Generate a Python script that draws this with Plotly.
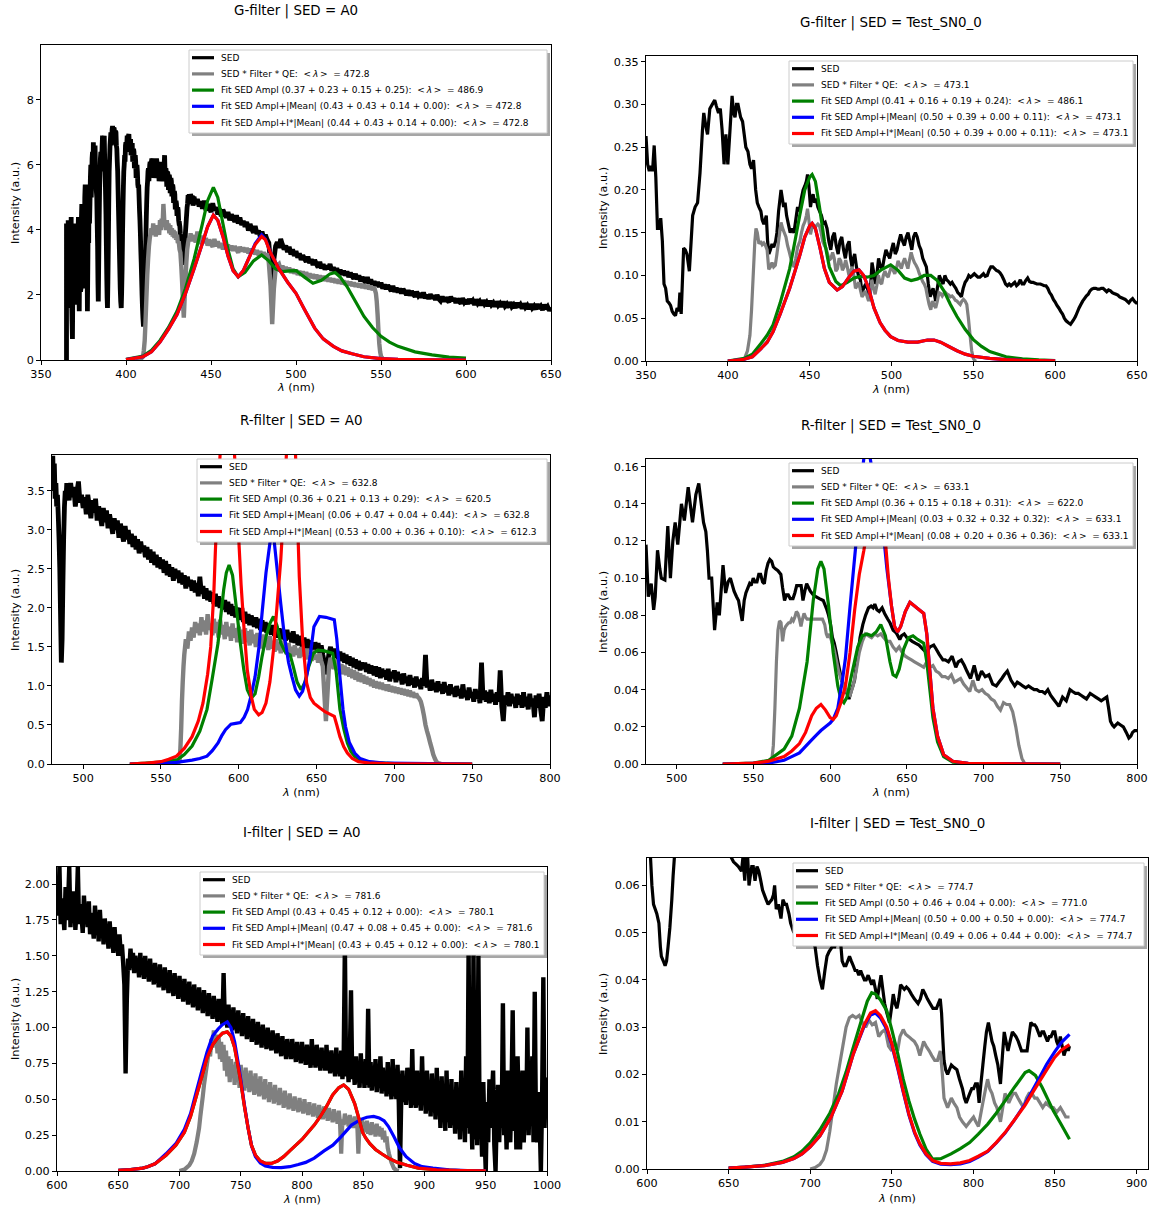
import plotly.graph_objects as go

W, H = 1158, 1209
FONT = "DejaVu Sans"


def grid(start, vals):
    """pair up values read at 1-nm spacing starting at `start`"""
    return [(start + i, v) for i, v in enumerate(vals)]


# ======================= DATA =======================
# ---------- G-filter | SED = A0 ----------
g_a0_sed_head = [(365,0),(365,4.2),(365.25,2.8),(365.5,4.0),(365.75,1.9),(366,4.3),(366.25,2.5),(366.5,1.6),(366.75,3.6),
 (367,2.2),(367.25,3.8),(367.5,2.5),(367.75,4.4),(368,2.0),(368.25,1.2),(368.5,0.65),(368.75,2.4),(369,3.6),(369.25,1.9),
 (369.5,3.2),(369.75,2.0),(370,4.2),(370.25,2.6),(370.5,1.8),(370.75,3.4),(371,3.9),(371.25,1.7),(371.5,2.6),(371.75,3.8),
 (372,4.4),(372.25,2.3),(372.5,1.5),(372.75,3.3),(373,4.0),(373.25,2.1),(373.5,2.2),(373.75,4.3),(374,4.8),(374.25,2.6),
 (374.5,2.4),(374.75,4.1),(375,4.5),(375.25,2.2),(375.5,3.0),(375.75,5.0),(376,5.4),(376.25,3.2),(376.5,2.8),(376.75,4.4),
 (377,4.0),(377.3,1.5),(377.6,3.2),(377.8,4.6),(378.05,3.6),(378.3,5.4),(378.55,4.2),(378.8,4.8),(379.05,5.6),(379.3,6.0),
 (379.55,5.0),(379.8,5.5),(380.05,6.2),(380.3,6.4),(380.55,5.6),(380.8,6.7),(381.05,6.0),(381.3,5.8),(381.55,6.5),(381.8,6.6),
 (382.05,5.8),(382.3,5.6),(382.55,5.2),(382.8,5.0),(383.05,4.2),(383.3,3.5),(383.5,2.4),(383.7,1.8),(383.95,3.0),(384.2,4.2),
 (384.45,5.2),(384.7,5.8),(384.95,6.2),(385.2,6.4),(385.45,5.8),(385.7,6.0),(385.95,6.6),(386.2,6.9),(386.45,6.3),(386.7,6.6),
 (386.95,6.8),(387.2,6.9),(387.45,6.2),(387.7,5.8),(387.95,5.2),(388.2,4.5),(388.45,3.5),(388.7,2.5),(388.9,1.9),(389.1,1.6),
 (389.35,2.4),(389.6,3.5),(389.85,4.8),(390.1,5.8),(390.35,6.2),(390.6,6.6),(390.85,6.8),(391.1,7.0),(391.35,6.6),(391.6,6.8),
 (391.85,7.1),(392.1,7.2),(392.35,6.8),(392.6,6.9),(392.85,7.15),(393.1,7.1),(393.35,6.7),(393.6,6.7),(393.85,7.05),(394.1,7.0),
 (394.35,6.6),(394.6,6.5),(394.85,6.1),(395.1,5.8),(395.35,5.2),(395.6,4.6),(395.85,4.0),(396.1,3.4),(396.35,2.8),(396.6,2.2),
 (396.9,1.8),(397.2,1.6),(397.45,2.1),(397.7,2.8),(397.95,3.8),(398.2,4.6),(398.45,5.3),(398.7,5.8),(398.95,6.0),(399.2,6.3),
 (399.45,6.1),(399.7,6.6),(399.95,6.7),(400.2,6.4),(400.45,6.6),(400.7,6.9),(400.95,6.5),(401.2,6.7),(401.45,6.9),(401.7,6.95),
 (401.95,6.6),(402.2,6.5),(402.45,6.7),(402.7,6.8),(402.95,6.3),(403.2,6.4),(403.45,6.6),(403.7,6.6),(403.95,6.1),(404.2,6.2),
 (404.45,6.5),(404.7,6.4),(404.95,5.9),(405.2,6.0),(405.45,6.3),(405.7,6.1),(405.95,5.6),(406.2,5.7),(406.45,6.0),(406.7,5.8),
 (406.95,5.4),(407.2,5.3),(407.45,5.4),(407.7,5.0),(407.95,4.6),(408.2,4.3),(408.45,3.9),(408.7,3.4),(408.95,3.0),(409.2,2.5),
 (409.45,2.0),(409.7,1.6),(409.95,1.3),(410.2,1.1),(410.45,1.1),(410.7,1.3),(410.95,1.8),(411.2,2.4),(411.45,3.1),(411.7,3.8),
 (411.95,4.4),(412.2,4.9),(412.45,5.3),(412.7,5.5),(412.95,5.8),(413.2,5.9),(413.45,5.5),(413.7,5.7),(413.95,6.0),(414.2,6.1),
 (414.45,5.7),(414.7,5.8),(414.95,6.1),(415.2,6.2),(415.45,5.7),(415.7,5.9),(415.95,6.2),(416.2,6.1),(416.45,5.6),(416.7,5.7),
 (416.95,6.1),(417.2,6.0),(417.45,5.6),(417.7,5.8),(417.95,6.2),(418.2,6.1),(418.45,5.6),(418.7,5.7),(418.95,6.0),(419.2,5.9),
 (419.45,5.5),(419.7,5.6),(419.95,6.1),(420.2,6.0),(420.45,5.6),(420.7,5.7),(420.95,6.0),(421.2,5.9),(421.45,5.5),(421.7,5.6),
 (421.95,5.9),(422.2,5.8),(422.45,6.0),(422.7,6.3),(422.95,5.8),(423.2,5.6),(423.45,5.9),(423.7,5.8),(423.95,5.4),(424.2,5.4),
 (424.45,5.8),(424.7,5.7),(424.95,5.3),(425.2,5.3),(425.45,5.7),(425.7,5.6),(425.95,5.2),(426.2,5.2),(426.45,5.6),(426.7,5.5),
 (426.95,5.1),(427.2,5.1),(427.45,5.4),(427.7,5.3),(427.95,4.9),(428.2,4.9),(428.45,5.2),(428.7,5.1),(428.95,4.7),(429.2,4.7),
 (429.45,4.9),(429.7,4.8),(429.95,4.5),(430.2,4.5),(430.45,4.7),(430.7,4.6),(430.95,4.3),(431.2,4.2),(431.45,4.2),(431.7,4.1),
 (431.95,3.9),(432.2,3.8),(432.45,3.7),(432.7,3.5),(432.95,3.3),(433.2,3.2),(433.45,3.1),(433.7,3.0),(433.95,3.0),(434.2,3.1),
 (434.45,3.4),(434.7,3.6),(434.95,3.9),(435.2,4.1),(435.45,4.3),(435.7,4.5),(435.95,4.7),(436.2,4.8),(436.45,5.0),(436.7,5.0),
 (436.95,4.8),(437.2,5.1),(437.45,4.9),(437.7,4.9),(437.95,5.1),(438.2,5.05),(438.45,4.8),(438.7,4.85),(438.95,5.05),(439.2,5.0),
 (439.45,4.75),(439.7,4.85)]
g_a0_sed_tail = [
 5.02,4.80,4.95,4.72,4.88,4.65,4.90,4.60,4.78,4.70, 4.55,4.82,4.60,4.70,4.48,4.65,4.42,4.62,4.50,4.38,
 4.55,4.30,4.48,4.36,4.25,4.45,4.20,4.38,4.15,4.28, 4.10,4.25,3.98,4.18,4.02,3.92,4.12,3.88,3.98,3.80,
 3.95,3.75,3.85,3.70,3.60,3.00,2.30,3.10,3.50,3.62, 3.45,3.72,3.55,3.40,3.52,3.32,3.48,3.25,3.40,3.20,
 3.35,3.15,3.28,3.08,3.22,3.12,3.02,3.18,2.98,3.10, 2.92,3.08,2.95,2.85,3.02,2.82,2.95,2.78,2.90,2.80,
 2.95,2.75,2.85,2.70,2.82,2.65,2.78,2.62,2.74,2.60, 2.72,2.55,2.68,2.58,2.50,2.65,2.48,2.60,2.42,2.55,
 2.45,2.38,2.55,2.35,2.48,2.30,2.42,2.28,2.40,2.25, 2.38,2.20,2.32,2.18,2.30,2.22,2.12,2.28,2.10,2.22,
 2.08,2.20,2.05,2.18,2.10,2.00,2.15,1.98,2.12,2.02, 1.95,2.10,1.98,2.05,1.92,2.08,1.90,2.00,1.88,2.02,
 1.90,1.98,1.85,2.00,1.88,1.82,1.95,1.80,1.92,1.84, 1.78,1.95,1.82,1.90,1.76,1.88,1.80,1.74,1.90,1.78,
 1.85,1.72,1.88,1.75,1.82,1.70,1.86,1.74,1.80,1.68, 1.84,1.72,1.78,1.66,1.82,1.70,1.76,1.65,1.80,1.68,
 1.74,1.64,1.80,1.66,1.72,1.62,1.78,1.64,1.70,1.60, 1.76,1.63,1.70,1.58,1.74,1.62,1.68,1.57,1.72,1.60,
 1.66,1.56,1.72,1.58,1.65,1.54,1.70,1.57,1.64,1.52, 1.62]
g_a0_sed = g_a0_sed_head + grid(440, g_a0_sed_tail)
g_a0_sfq_head = [(406,0),(408,0.02),(409,0.05),(410,0.1),(410.5,0.3),(411,0.6),(411.5,1.2),(412,1.9),(412.5,2.6),(413,3.1),
 (413.5,3.5),(414,3.75),(414.5,3.9),(415,4.05),(415.5,3.85),(416,4.2),(416.5,3.95),(417,4.1),(417.5,3.8),(418,4.15),(418.5,3.9),
 (419,4.05),(419.5,3.85),(420,4.3),(420.5,4.0),(421,4.35),(421.5,4.1),(422,4.8),(422.5,4.3),(423,4.25),(423.5,4.0),(424,4.3),
 (424.5,4.05),(425,4.2),(425.5,3.9),(426,4.15),(426.5,3.85),(427,4.05),(427.5,3.8),(428,4.0),(428.5,3.75),(429,3.95),(429.5,3.7),
 (430,3.85),(430.5,3.6),(431,3.65),(431.5,3.4),(432,3.3),(432.5,2.9),(433,2.4),(433.5,1.8),(434,1.3),(434.5,1.9),(435,2.5),
 (435.5,3.0),(436,3.4),(436.5,3.6),(437,3.75),(437.5,3.65),(438,3.9),(438.5,3.7),(439,3.85),(439.5,3.65)]
g_a0_sfq_mid = [
 3.80,3.62,3.95,3.70,3.58,3.82,3.60,3.75,3.52,3.70, 3.58,3.48,3.72,3.50,3.65,3.45,3.60,3.40,3.58,3.44,
 3.55,3.38,3.52,3.36,3.50,3.40,3.30,3.48,3.34,3.46, 3.32,3.45,3.28,3.42,3.30,3.40,3.25,3.38,3.22,3.35,
 3.20,3.32,3.15,3.28,3.00,2.30,1.10,2.20,2.80,2.90, 2.95,2.78,2.90,2.75,2.86,2.72,2.84,2.68,2.80,2.66,
 2.78,2.62,2.74,2.60,2.72,2.58,2.70,2.55,2.66,2.52, 2.64,2.50,2.62,2.48,2.60,2.46,2.58,2.44,2.55,2.42,
 2.52,2.40,2.50,2.38,2.48,2.36,2.46,2.34,2.44,2.32, 2.42,2.30,2.40,2.28,2.38,2.26,2.36,2.24,2.34,2.22,
 2.32,2.20,2.30,2.18,2.28,2.16,2.24]
g_a0_sfq_tailpts = [(547,2.05),(547.5,1.8),(548,1.4),(548.5,0.9),(549,0.5),(549.5,0.25),(550,0.12),(551,0.04),(553,0)]
g_a0_sfq = g_a0_sfq_head + grid(440, g_a0_sfq_mid) + g_a0_sfq_tailpts
g_a0_ampl = [(400,0.02),(410,0.12),(415,0.3),(420,0.6),(425,1.0),(430,1.5),(435,2.2),(440,3.1),(445,4.2),(448,4.9),(451.4,5.31),
 (454,5.0),(457,4.2),(460,3.4),(463,2.8),(466,2.56),(470,2.7),(475,3.05),(479.8,3.23),(484,3.05),(488,2.8),(492,2.72),(496,2.74),
 (500,2.75),(505,2.55),(510,2.36),(515,2.45),(520,2.65),(523,2.69),(526,2.55),(530,2.26),(535,1.8),(540,1.34),(545,1.0),(550,0.73),
 (555,0.55),(560,0.42),(570,0.25),(580,0.16),(590,0.09),(600,0.06)]
g_a0_mean = [(400,0.01),(410,0.1),(415,0.25),(420,0.55),(425,0.95),(430,1.4),(435,2.05),(440,2.8),(445,3.6),(448,4.1),(451.4,4.46),
 (454,4.3),(457,3.8),(460,3.2),(463,2.75),(466,2.56),(469,2.75),(472,3.1),(476,3.58),(479.8,3.85),(482,3.72),(485,3.3),(490,2.8),
 (495,2.4),(500,2.05),(505,1.55),(511,0.98),(516,0.65),(522,0.42),(527,0.28),(533,0.19),(540,0.1),(550,0.04),(560,0.02),
 (580,0.005),(600,0.0)]
g_a0_imean = [(400,0.01),(410,0.1),(415,0.25),(420,0.55),(425,0.95),(430,1.4),(435,2.05),(440,2.8),(445,3.6),(448,4.1),(451.4,4.46),
 (454,4.3),(457,3.8),(460,3.2),(463,2.75),(466,2.56),(469,2.75),(472,3.1),(476,3.55),(479.8,3.8),(482,3.7),(485,3.3),(490,2.8),
 (495,2.4),(500,2.05),(505,1.55),(511,0.98),(516,0.65),(522,0.42),(527,0.28),(533,0.19),(540,0.1),(550,0.04),(560,0.02),
 (580,0.005),(600,0.0)]
g_a0_lam = [472.8, 486.9, 472.8, 472.8]
g_a0_coef = [[0.37, 0.23, 0.15, 0.25], [0.43, 0.43, 0.14, 0.00], [0.44, 0.43, 0.14, 0.00]]

# ---------- G-filter | SED = Test_SN0_0 ----------
g_t_sed = [(350,0.263),(351,0.23),(352,0.222),(353,0.228),(354,0.222),(355,0.252),(356,0.215),(357,0.155),(358,0.155),(359,0.167),
 (360,0.14),(361,0.09),(362,0.085),(363,0.07),(364,0.068),(365,0.065),(366,0.058),(367,0.055),(368,0.053),(369,0.062),(370,0.058),
 (370.7,0.08),(371.5,0.055),(373,0.132),(374,0.13),(375,0.125),(376.5,0.105),(378.5,0.17),(380,0.18),(381.5,0.185),(383,0.22),
 (384.5,0.27),(385.3,0.29),(386.5,0.275),(387.6,0.265),(389,0.295),(390.5,0.3),(392,0.305),(393,0.298),(394.3,0.29),(395.4,0.295),
 (396.5,0.27),(397.7,0.23),(398.8,0.265),(400,0.23),(401,0.26),(402.6,0.31),(403.5,0.29),(404.4,0.285),(405.3,0.3),(406.2,0.3),
 (407.8,0.285),(409,0.28),(410,0.265),(411,0.25),(412.3,0.245),(413.5,0.23),(414.5,0.225),(415.7,0.235),(417,0.2),(418,0.185),
 (419,0.18),(420.2,0.175),(421,0.165),(422,0.16),(423.5,0.17),(424.3,0.14),(425.1,0.125),(426,0.13),(427,0.137),(428,0.133),
 (429.2,0.14),(430,0.15),(431,0.175),(432.5,0.2),(433.3,0.19),(434.1,0.18),(435,0.185),(435.9,0.17),(437,0.16),(438.1,0.15),
 (439,0.155),(440.4,0.15),(441.5,0.165),(442.6,0.18),(443.7,0.175),(444.9,0.19),(446,0.2),(447.1,0.205),(448,0.21),(448.7,0.218),
 (449.5,0.205),(450.5,0.18),(451.3,0.19),(452.1,0.195),(453,0.185),(453.9,0.19),(455,0.18),(456.1,0.175),(457.2,0.17),(458.4,0.16),
 (459.5,0.162),(460.6,0.155),(461.7,0.14),(462.9,0.13),(464,0.145),(465.1,0.15),(466.2,0.135),(467.4,0.125),(468.5,0.14),
 (469.6,0.145),(470.7,0.13),(471.8,0.12),(473,0.135),(474.1,0.14),(475,0.12),(475.9,0.11),(476.7,0.12),(477.5,0.125),(478.6,0.11),
 (479.8,0.1),(481,0.095),(482,0.08),(483,0.085),(484.2,0.09),(485.3,0.085),(486.5,0.075),(487.3,0.09),(488.1,0.115),(489,0.105),
 (489.9,0.09),(491,0.1),(492.1,0.12),(493.2,0.11),(494.4,0.108),(495.5,0.12),(496.6,0.13),(497.7,0.125),(498.9,0.12),(500,0.13),
 (501.1,0.138),(502.3,0.125),(503.4,0.13),(504.5,0.14),(505.6,0.148),(506.8,0.14),(507.9,0.135),(509,0.145),(510.1,0.15),
 (511.2,0.14),(512.4,0.13),(513.5,0.145),(514.6,0.15),(515.7,0.145),(516.9,0.135),(518,0.13),(519.1,0.12),(520.2,0.115),
 (521.3,0.11),(522.5,0.09),(523.6,0.075),(524.5,0.08),(525.4,0.085),(526.2,0.078),(527,0.07),(528,0.085),(529.2,0.1),(530.3,0.095),
 (531.5,0.09),(532.6,0.1),(533.7,0.095),(534.8,0.093),(536,0.09),(537,0.092),(538.2,0.088),(539.3,0.085),(540.5,0.08),
 (541.6,0.078),(542.7,0.075),(543.8,0.085),(545,0.092),(546.1,0.095),(547.2,0.1),(548.3,0.098),(549.5,0.1),(550.6,0.102),
 (551.7,0.1),(552.8,0.098),(554,0.098),(555.1,0.1),(556.2,0.102),(557.3,0.099),(558.5,0.1),(559.6,0.106),(560.7,0.11),
 (561.9,0.11),(563,0.108),(564.1,0.106),(565.2,0.105),(566.3,0.103),(567.4,0.1),(568.6,0.095),(569.7,0.09),(570.8,0.088),
 (571.9,0.09),(573,0.088),(574.2,0.09),(575.3,0.092),(576.4,0.088),(577.5,0.09),(578.7,0.095),(579.8,0.09),(580.9,0.09),
 (582,0.094),(583.2,0.097),(584.3,0.093),(585.4,0.092),(586.5,0.092),(587.7,0.091),(588.8,0.09),(590,0.09),(591,0.09),
 (592.2,0.089),(593.3,0.088),(594.4,0.088),(595.5,0.085),(596.6,0.08),(597.7,0.077),(598.9,0.072),(600,0.069),(601.1,0.065),
 (602.2,0.062),(603.4,0.058),(604.5,0.055),(605.6,0.05),(606.7,0.047),(607.9,0.045),(609.4,0.043),(611.2,0.048),(612.4,0.052),
 (613.5,0.057),(614.6,0.062),(615.7,0.066),(616.8,0.07),(617.9,0.073),(619,0.076),(620.2,0.078),(621.3,0.082),(622.4,0.084),
 (623.6,0.085),(624.8,0.085),(626,0.084),(627,0.084),(628.2,0.085),(629.3,0.085),(630.4,0.083),(631.5,0.081),(632.6,0.083),
 (633.8,0.082),(634.9,0.08),(636,0.079),(637.2,0.078),(638.3,0.077),(639.4,0.075),(640.5,0.074),(641.6,0.073),(642.8,0.072),
 (643.9,0.07),(645,0.068),(646.1,0.071),(647.3,0.073),(648.4,0.07),(649.5,0.068),(650,0.068)]
g_t_sfq = [(405,0),(410,0.002),(412,0.012),(413.5,0.03),(414.5,0.06),(415.5,0.1),(416.5,0.14),(417.2,0.155),(418,0.15),(419,0.137),
 (420,0.14),(421,0.136),(422,0.138),(423,0.135),(424,0.13),(425,0.107),(426,0.11),(427,0.115),(428,0.11),(429,0.112),(430,0.125),
 (431,0.14),(432.5,0.162),(433.5,0.155),(434.5,0.15),(435.5,0.145),(436.5,0.135),(437.5,0.128),(438.5,0.12),(439.5,0.113),
 (440.5,0.11),(441.5,0.12),(442.6,0.133),(444,0.14),(445,0.15),(446,0.158),(447.1,0.163),(448,0.17),(448.7,0.178),(449.5,0.165),
 (450.5,0.148),(451.3,0.155),(452.1,0.16),(453,0.155),(454,0.158),(455,0.16),(456,0.158),(457,0.15),(458,0.14),(459,0.135),
 (460,0.132),(461,0.125),(462,0.118),(463,0.12),(464,0.127),(465,0.12),(466,0.105),(467,0.108),(468,0.12),(469,0.117),(470,0.106),
 (471,0.11),(472,0.118),(473,0.11),(474,0.1),(475,0.105),(476,0.11),(477,0.1),(478,0.085),(479,0.088),(480,0.092),(481,0.083),
 (482,0.075),(483,0.078),(484,0.082),(485,0.076),(486,0.07),(487,0.08),(488,0.095),(489,0.085),(490,0.078),(491,0.088),(492,0.1),
 (493,0.092),(494,0.09),(495,0.1),(496,0.105),(497,0.1),(498,0.098),(499,0.105),(500,0.11),(501,0.106),(502,0.102),(503,0.108),
 (504,0.117),(505,0.113),(506,0.108),(507,0.115),(508,0.12),(509,0.114),(510,0.108),(511,0.118),(512,0.127),(513,0.12),(514,0.115),
 (515,0.112),(516,0.108),(517,0.102),(518,0.098),(519,0.093),(520,0.09),(521,0.085),(522,0.075),(523,0.066),(524,0.06),(525,0.07),
 (526,0.066),(527,0.062),(528,0.07),(529,0.08),(530,0.079),(531,0.076),(532,0.079),(533,0.08),(534,0.078),(535,0.077),(536,0.075),
 (537,0.076),(538,0.074),(539,0.071),(540,0.07),(541,0.068),(542,0.066),(543,0.07),(544,0.072),(545,0.07),(546,0.066),(547,0.05),
 (548,0.03),(549,0.012),(550,0.003),(551,0.0),(552,0)]
g_t_ampl = [(400,0),(410,0.003),(415,0.008),(420,0.02),(424,0.03),(427.6,0.042),(432,0.068),(437.8,0.108),(441,0.14),(444,0.171),
 (447,0.2),(450,0.215),(451.5,0.218),(453.5,0.21),(456,0.18),(459,0.14),(462,0.11),(466,0.093),(469,0.088),(473,0.092),(477,0.097),
 (481,0.099),(485,0.098),(489.3,0.1),(494,0.107),(499.5,0.1125),(504,0.106),(508,0.097),(512,0.094),(516,0.096),(520,0.1),
 (524,0.1),(528,0.094),(532,0.082),(536,0.066),(540,0.052),(545,0.037),(550,0.025),(555,0.017),(560,0.011),(570,0.005),
 (580,0.0025),(590,0.0012),(600,0.0006)]
g_t_imean = [(400,0),(410,0.002),(415,0.005),(420,0.014),(424,0.022),(427.6,0.034),(432,0.055),(437.8,0.085),(441,0.105),
 (444,0.124),(447,0.145),(450,0.158),(451.5,0.161),(453.5,0.155),(456,0.135),(459,0.108),(462,0.092),(466.8,0.083),(470,0.087),
 (474,0.098),(477,0.105),(480.1,0.1066),(483,0.1),(486,0.085),(489.3,0.062),(493,0.045),(496,0.036),(499.5,0.0285),(504,0.024),
 (510,0.022),(516,0.022),(522,0.0245),(526,0.0245),(530,0.022),(535,0.017),(540,0.012),(545,0.008),(550,0.0055),(560,0.003),
 (570,0.0015),(580,0.0008),(600,0.0003)]
g_t_mean = g_t_imean  # identical fit (same coefficients)
g_t_lam = [473.1, 486.1, 473.1, 473.1]
g_t_coef = [[0.41, 0.16, 0.19, 0.24], [0.50, 0.39, 0.00, 0.11], [0.50, 0.39, 0.00, 0.11]]

# ---------- R-filter | SED = A0 ----------
r_a0_sed_head = [(480,3.7),(480.5,3.95),(481,3.5),(481.5,3.85),(482,3.4),(482.5,3.6),(483,3.3),(483.5,3.45),(484,3.2),(484.5,2.9),
 (485,2.5),(485.5,1.9),(486,1.3),(486.5,1.6),(487,2.3),(487.5,2.9),(488,3.3),(488.5,3.5),(489,3.4),(489.5,3.6)]
r_a0_sed_tail = [
 3.50,3.38,3.60,3.42,3.55,3.30,3.48,3.62,3.35,3.45, 3.28,3.42,3.20,3.45,3.30,3.15,3.38,3.22,3.40,3.12,
 3.30,3.18,3.05,3.28,3.10,3.25,3.02,3.20,3.08,2.95, 3.15,3.00,3.12,2.90,3.08,2.95,2.85,3.05,2.88,3.00,
 2.82,2.95,2.78,2.92,2.75,2.88,2.70,2.85,2.72,2.80, 2.65,2.78,2.62,2.75,2.58,2.72,2.55,2.68,2.52,2.65,
 2.50,2.62,2.45,2.60,2.42,2.56,2.40,2.52,2.35,2.50, 2.38,2.48,2.32,2.45,2.30,2.42,2.25,2.40,2.28,2.36,
 2.22,2.35,2.20,2.32,2.15,2.40,2.18,2.28,2.12,2.25, 2.10,2.22,2.08,2.20,2.05,2.18,2.02,2.15,2.00,2.12,
 1.98,2.10,1.95,2.08,1.92,2.05,1.90,2.02,1.88,2.00, 1.92,1.85,2.00,1.82,1.95,1.80,1.92,1.78,1.90,1.84,
 1.76,1.88,1.74,1.86,1.72,1.84,1.70,1.82,1.68,1.80, 1.72,1.66,1.78,1.64,1.76,1.62,1.74,1.60,1.72,1.64,
 1.58,1.72,1.60,1.68,1.56,1.70,1.55,1.66,1.52,1.64, 1.56,1.50,1.62,1.48,1.60,1.46,1.58,1.52,1.44,1.56,
 1.48,1.55,1.42,1.52,1.40,1.30,1.15,1.28,1.42,1.50, 1.40,1.48,1.36,1.46,1.34,1.44,1.32,1.42,1.30,1.40,
 1.28,1.38,1.26,1.36,1.24,1.34,1.22,1.32,1.20,1.30, 1.22,1.30,1.18,1.28,1.16,1.26,1.20,1.14,1.25,1.12,
 1.24,1.10,1.22,1.12,1.20,1.08,1.22,1.06,1.18,1.10, 1.20,1.05,1.18,1.08,1.15,1.02,1.16,1.04,1.12,1.00,
 1.14,1.02,1.10,0.98,1.12,1.00,1.08,0.96,1.10,1.00, 1.40,0.98,1.06,0.94,1.08,0.95,1.04,0.92,1.06,0.94,
 1.02,0.90,1.05,0.92,1.00,0.88,1.02,0.90,0.98,0.86, 1.00,0.88,0.96,0.84,1.02,0.86,0.94,0.82,0.98,0.85,
 0.92,0.80,0.96,0.84,0.90,0.78,1.30,0.82,0.94,0.80, 0.92,0.78,0.95,0.80,0.90,0.76,0.92,0.80,1.20,0.74,
 0.55,0.88,0.76,0.92,0.74,0.90,0.78,0.86,0.72,0.90, 0.76,0.88,0.72,0.92,0.74,0.86,0.70,0.90,0.74,0.84,
 0.60,0.88,0.72,0.90,0.70,0.55,0.86,0.72,0.92,0.74, 0.88]
r_a0_sed = r_a0_sed_head + grid(490, r_a0_sed_tail)
r_a0_sfq_head = [(560,0),(561,0.01),(562,0.05),(562.5,0.2),(563,0.45),(563.5,0.8),(564,1.05),(564.5,1.25),(565,1.4),(565.5,1.5)]
r_a0_sfq_mid = [
 1.60,1.48,1.70,1.58,1.75,1.62,1.82,1.68,1.80,1.65, 1.88,1.70,1.84,1.66,1.92,1.72,1.80,1.65,1.86,1.68,
 1.82,1.62,1.85,1.66,1.78,1.60,1.82,1.64,1.76,1.58, 1.80,1.62,1.74,1.56,1.76,1.58,1.72,1.54,1.74,1.56,
 1.70,1.52,1.72,1.55,1.66,1.50,1.68,1.52,1.64,1.48, 1.66,1.50,1.62,1.46,1.64,1.48,1.58,1.44,1.60,1.46,
 1.56,1.42,1.58,1.44,1.54,1.40,1.55,1.42,1.50,1.38, 1.52,1.40,1.48,1.36,1.50,1.38,1.46,1.34,1.48,1.36,
 1.44,1.32,1.46,1.34,1.40,1.30,1.42,1.32,1.25,0.90, 0.55,0.90,1.25,1.36,1.28,1.22,1.34,1.20,1.30,1.18,
 1.28,1.15,1.26,1.14,1.24,1.12,1.22,1.10,1.20,1.08, 1.18,1.06,1.16,1.05,1.14,1.03,1.12,1.02,1.10,1.00,
 1.08,0.98,1.06,0.97,1.05,0.96,1.04,0.95,1.02,0.94, 1.02,0.93,1.00,0.92,0.99,0.91,0.98,0.90,0.97,0.89,
 0.96,0.88,0.95,0.87,0.94,0.86,0.92,0.85,0.90,0.86, 0.84]
r_a0_sfq_tailpts = [(717,0.8),(718,0.72),(719,0.62),(720,0.5),(721,0.42),(722,0.35),(723,0.27),(724,0.2),(725,0.12),(726,0.07),
 (727,0.03),(728,0.01),(730,0)]
r_a0_sfq = r_a0_sfq_head + grid(566, r_a0_sfq_mid) + r_a0_sfq_tailpts
r_a0_ampl = [(530,0),(540,0.01),(550,0.025),(555,0.04),(560.5,0.055),(565,0.12),(570,0.23),(575,0.42),(579.6,0.7),(583,1.1),
 (586.7,1.55),(588.5,1.9),(590.3,2.23),(592,2.45),(593.8,2.55),(596,2.42),(598.6,1.98),(601,1.55),(603.3,1.2),(605.5,0.95),
 (608,0.845),(610.5,0.9),(612.8,1.12),(615,1.38),(617.5,1.63),(620,1.8),(622.3,1.89),(624.5,1.78),(627,1.55),(630,1.43),(633,1.4),
 (635,1.25),(637.5,1.05),(640.1,0.95),(642.5,1.05),(645,1.25),(648,1.42),(650.8,1.46),(655,1.45),(660.3,1.42),(662.5,1.2),
 (665,0.7),(667.5,0.45),(669.8,0.27),(672,0.16),(674.5,0.1),(678,0.05),(685,0.02),(700,0.005),(750,0)]
r_a0_mean = [(530,0),(550,0.005),(560,0.02),(570,0.05),(575,0.07),(579.6,0.1),(583,0.17),(586.7,0.27),(589,0.36),(591.5,0.44),
 (595,0.51),(598,0.52),(601,0.53),(603.5,0.6),(605.7,0.7),(608,0.88),(610.5,1.12),(613,1.5),(615.2,1.98),(617.5,2.45),(620,2.83),
 (622,3.0),(624.7,2.49),(627,2.05),(629.4,1.63),(632,1.3),(634.2,1.12),(636.5,0.95),(638.9,0.87),(641,0.93),(643.6,1.12),(646,1.4),
 (648.3,1.76),(651.9,1.89),(656,1.88),(661.4,1.85),(663,1.6),(665,1.12),(667,0.7),(668.6,0.48),(671,0.28),(674.5,0.14),(678,0.07),
 (684,0.03),(695,0.01),(750,0)]
r_a0_imean = [(530,0),(540,0.01),(550,0.03),(555,0.06),(560,0.1),(565,0.2),(570,0.35),(574,0.55),(577,0.78),(580,1.15),(582,1.5),
 (584,2.2),(585,2.74),(586.5,3.4),(588,3.96),(590,4.5),(592.5,4.85),(595,4.5),(597.3,3.96),(599.7,3.0),(601.5,2.3),(603.3,1.76),
 (605.5,1.2),(608,0.87),(610,0.7),(612.8,0.63),(615,0.66),(617.5,0.78),(620,1.05),(622.3,1.46),(624.5,2.0),(627,2.62),(629,3.3),
 (630.6,3.96),(633.5,4.6),(636.5,3.96),(638.9,2.4),(641,1.6),(643.6,1.04),(646,0.85),(648.3,0.78),(652,0.72),(655.4,0.67),
 (658.5,0.64),(661.4,0.61),(663,0.5),(665,0.35),(667.5,0.22),(669.8,0.14),(673,0.07),(676.9,0.03),(685,0.01),(700,0.003),(750,0)]
r_a0_lam = [632.8, 620.5, 632.8, 612.3]
r_a0_coef = [[0.36, 0.21, 0.13, 0.29], [0.06, 0.47, 0.04, 0.44], [0.53, 0.00, 0.36, 0.10]]

# ---------- R-filter | SED = Test_SN0_0 ----------
r_t_sed = [(480,0.118),(481.5,0.09),(483.4,0.097),(485,0.083),(486,0.09),(487.5,0.115),(489,0.105),(490,0.1),(492.3,0.099),
 (494.2,0.128),(495.9,0.1),(497.5,0.12),(499,0.13),(500.7,0.118),(503.1,0.14),(505,0.131),(507.5,0.149),(508.8,0.14),(510.3,0.13),
 (512.5,0.145),(514.4,0.151),(516,0.14),(517.5,0.13),(519,0.125),(520,0.115),(521.1,0.1),(522.8,0.1),(524.7,0.072),(526.4,0.087),
 (527.8,0.08),(530.2,0.107),(531.9,0.092),(533.5,0.098),(535,0.1),(537.4,0.093),(539,0.09),(540.3,0.088),(542.7,0.077),(544,0.088),
 (545.1,0.092),(547.5,0.097),(548.5,0.096),(549.9,0.1),(551,0.098),(552.3,0.098),(553.5,0.102),(554.7,0.102),(556,0.098),
 (557.1,0.097),(558.3,0.104),(559.5,0.108),(560.7,0.11),(561.9,0.109),(563,0.106),(564.3,0.105),(566,0.104),(567.9,0.102),
 (569,0.095),(570.3,0.088),(571.5,0.091),(572.7,0.091),(574,0.089),(575.8,0.089),(577,0.092),(578.2,0.096),(579.5,0.096),
 (581.1,0.096),(582.3,0.088),(583.5,0.093),(584.7,0.097),(585.9,0.095),(587.1,0.093),(589,0.091),(590.7,0.09),(593,0.089),
 (595.5,0.088),(597.9,0.083),(599,0.08),(600.3,0.075),(601.5,0.068),(602.7,0.065),(604,0.06),(605.1,0.055),(606.3,0.05),
 (607.5,0.045),(608.7,0.043),(609.9,0.04),(611,0.038),(612.3,0.035),(614,0.04),(615.9,0.045),(617.5,0.055),(619.5,0.068),
 (621.3,0.075),(623.1,0.08),(625,0.084),(626.7,0.085),(628,0.084),(629.1,0.086),(630.5,0.083),(632,0.082),(633.9,0.084),
 (635.5,0.081),(637.5,0.078),(639,0.076),(641.1,0.072),(642.5,0.071),(643.5,0.07),(645.4,0.067),(646.5,0.069),(648.3,0.07),
 (650,0.068),(651.9,0.067),(653.5,0.066),(655.5,0.065),(657.9,0.064),(660.3,0.062),(662.7,0.06),(665.1,0.063),(667.5,0.064),
 (669,0.062),(671.1,0.059),(673.5,0.056),(675,0.056),(677.1,0.055),(679.5,0.058),(681.9,0.052),(683.5,0.055),(685.5,0.056),
 (687.5,0.053),(689.1,0.05),(691.5,0.046),(693.9,0.053),(696.3,0.045),(698.7,0.05),(701.1,0.047),(703.5,0.048),(705.9,0.043),
 (708.3,0.042),(710,0.044),(711.9,0.046),(713.5,0.048),(715.5,0.05),(717.9,0.045),(720.3,0.042),(722,0.044),(723.9,0.043),
 (725.5,0.042),(727.5,0.041),(729.3,0.042),(731.1,0.041),(733,0.04),(734.7,0.04),(736.5,0.039),(738.3,0.039),(740,0.038),
 (741.9,0.04),(743.7,0.037),(745.5,0.035),(747.3,0.033),(749.1,0.031),(751.5,0.036),(753.9,0.034),(756.3,0.04),(758,0.039),
 (759.9,0.038),(761.7,0.038),(763.5,0.037),(765.3,0.036),(767.1,0.035),(769.5,0.038),(771.3,0.037),(773.1,0.036),(774.9,0.035),
 (776.7,0.034),(778.5,0.035),(780.3,0.036),(781.5,0.03),(782.7,0.023),(784,0.021),(785.1,0.02),(786.3,0.021),(787.5,0.022),
 (789.3,0.021),(791.1,0.02),(793,0.017),(794.7,0.014),(796,0.015),(797.1,0.017),(798.5,0.018),(800,0.018)]
r_t_sfq = [(560,0),(562,0.002),(563,0.01),(564,0.03),(565,0.055),(566,0.072),(567,0.077),(568,0.076),(569,0.066),(570,0.072),
 (571,0.074),(572,0.075),(573,0.076),(574,0.076),(575,0.078),(576,0.077),(577,0.079),(578,0.082),(579,0.081),(580,0.078),
 (581,0.074),(582,0.078),(583,0.081),(584,0.079),(585,0.078),(587,0.078),(590,0.078),(593,0.078),(595,0.078),(596.5,0.075),
 (597.5,0.07),(598.5,0.068),(599.5,0.07),(601,0.066),(602.5,0.062),(604,0.056),(605.5,0.05),(607,0.046),(608.5,0.043),(610,0.04),
 (611.5,0.038),(613,0.037),(615,0.042),(617,0.05),(619,0.06),(621,0.066),(623,0.07),(625,0.069),(627,0.068),(629,0.07),
 (631,0.069),(633,0.07),(635,0.068),(637,0.066),(639,0.066),(641,0.063),(643,0.061),(645,0.063),(647,0.06),(649,0.058),
 (651,0.057),(653,0.056),(655,0.055),(657,0.054),(659,0.053),(661,0.052),(663,0.055),(665,0.052),(667,0.053),(669,0.05),
 (671,0.049),(673,0.047),(675,0.047),(677,0.046),(679,0.048),(681,0.044),(683,0.045),(685,0.046),(687,0.043),(689,0.041),
 (691,0.039),(693,0.045),(695,0.04),(697,0.039),(699,0.04),(701,0.038),(703,0.037),(705,0.035),(707,0.034),(709,0.031),
 (711,0.029),(713,0.033),(715,0.032),(717,0.032),(719,0.028),(721,0.02),(723,0.01),(725,0.003),(727,0)]
r_t_ampl = [(530,0),(550,0.0005),(560,0.002),(570,0.008),(575,0.015),(580,0.03),(585,0.055),(589,0.088),(592,0.105),(594,0.109),
 (596,0.105),(599,0.085),(602,0.06),(605,0.042),(607,0.035),(609,0.033),(611,0.036),(614,0.048),(618,0.063),(621,0.069),
 (624,0.07),(627,0.069),(630,0.071),(633,0.075),(636,0.069),(639,0.055),(641,0.048),(643,0.047),(645,0.051),(648,0.062),
 (651,0.068),(654,0.069),(657,0.067),(661,0.065),(663,0.055),(665,0.04),(667,0.025),(670,0.012),(674,0.004),(680,0.001),
 (690,0.0002),(750,0)]
r_t_mean = [(530,0),(560,0.0005),(570,0.002),(575,0.004),(580,0.006),(584,0.0095),(588,0.013),(591,0.0155),(594,0.018),
 (597,0.02),(600,0.022),(602,0.024),(605,0.03),(608,0.045),(610,0.057),(613,0.085),(617,0.12),(620,0.15),(623,0.172),(626,0.165),
 (629,0.15),(632,0.135),(635,0.122),(637,0.105),(640,0.085),(642,0.074),(644,0.071),(646,0.074),(649,0.082),(652,0.087),
 (655,0.085),(658,0.083),(661,0.081),(663,0.07),(665,0.05),(667,0.03),(670,0.015),(674,0.005),(680,0.0015),(690,0.0003),(750,0)]
r_t_imean = [(530,0),(550,0.0005),(560,0.0015),(570,0.004),(575,0.007),(580,0.011),(584,0.017),(588,0.026),(591,0.03),
 (594,0.032),(597,0.029),(600,0.025),(602,0.024),(604,0.026),(607,0.033),(610,0.042),(613,0.06),(616,0.083),(619,0.102),
 (622,0.115),(625,0.13),(629,0.14),(633,0.138),(636,0.12),(638,0.1),(640,0.085),(642,0.074),(644,0.071),(646,0.074),(649,0.082),
 (652,0.087),(655,0.085),(658,0.083),(661,0.081),(663,0.07),(665,0.05),(667,0.03),(670,0.015),(674,0.005),(680,0.0015),
 (690,0.0003),(750,0)]
r_t_lam = [633.1, 622.0, 633.1, 633.1]
r_t_coef = [[0.36, 0.15, 0.18, 0.31], [0.03, 0.32, 0.32, 0.32], [0.08, 0.20, 0.36, 0.36]]

# ---------- I-filter | SED = A0 ----------
i_a0_sed_vals = [
 1.95,1.78,2.12,1.72,1.90,1.80,1.68,1.98,1.75,1.85, 2.12,1.70,1.88,1.76,1.95,1.68,1.82,2.12,1.72,1.86,
 1.78,1.66,1.92,1.74,1.84,1.70,1.88,1.65,1.80,1.72, 1.62,1.85,1.70,1.78,1.60,1.82,1.66,1.74,1.58,1.76,
 1.62,1.70,1.55,1.74,1.60,1.66,1.52,1.70,1.56,1.62, 1.50,1.65,1.52,1.58,1.45,1.30,0.68,1.20,1.48,1.40,
 1.55,1.42,1.52,1.38,1.50,1.40,1.46,1.35,1.52,1.38, 1.46,1.34,1.50,1.36,1.44,1.32,1.48,1.34,1.42,1.30,
 1.45,1.32,1.40,1.28,1.44,1.30,1.38,1.26,1.42,1.28, 1.36,1.24,1.40,1.26,1.34,1.22,1.38,1.24,1.32,1.20,
 1.36,1.22,1.30,1.18,1.34,1.20,1.28,1.16,1.32,1.18, 1.26,1.14,1.30,1.16,1.24,1.12,1.28,1.14,1.22,1.10,
 1.26,1.12,1.20,1.08,1.24,1.10,1.18,1.06,1.22,1.08, 1.16,1.04,1.20,1.06,1.14,1.02,1.38,1.04,1.12,1.00,
 1.16,1.02,1.10,0.98,1.14,1.00,1.08,0.96,1.12,0.98, 1.06,0.94,1.10,0.96,1.04,0.92,1.08,0.94,1.02,0.90,
 1.06,0.92,1.00,0.88,1.04,0.90,0.98,0.86,1.02,0.88, 0.96,0.85,1.00,0.86,0.94,0.84,0.98,0.85,0.92,0.82,
 0.96,0.84,0.90,0.80,0.94,0.82,0.90,0.78,0.92,0.80, 0.88,0.78,0.92,0.80,0.86,0.76,0.90,0.78,0.85,0.75,
 0.90,0.77,0.84,0.74,0.88,0.76,0.82,0.72,0.92,0.74, 0.84,0.72,0.88,0.74,0.82,0.70,0.86,0.72,0.80,0.70,
 0.88,0.70,0.80,0.68,0.84,0.70,0.78,0.66,0.86,0.68, 0.78,0.66,0.84,0.64,0.76,1.57,0.66,0.80,0.62,0.78,
 1.26,0.64,0.76,0.60,0.80,0.62,0.74,0.58,0.82,0.62, 0.74,0.58,0.78,0.60,1.13,0.58,0.76,0.56,0.72,0.60,
 0.78,0.55,0.70,0.58,0.80,0.54,0.72,0.56,0.68,0.52, 0.76,0.54,0.66,0.50,0.78,0.52,0.68,0.50,0.74,0.48,
 0.02,0.50,0.70,0.48,0.64,0.46,0.72,0.50,0.66,0.44, 0.85,0.46,0.62,0.44,0.70,0.46,0.60,0.42,0.80,0.48,
 0.62,0.40,0.70,0.42,0.58,0.38,0.68,0.44,0.56,0.36, 0.72,0.40,0.58,0.30,0.66,0.36,0.52,0.28,0.70,0.34,
 0.56,0.30,0.64,0.32,0.50,0.26,0.62,0.34,0.48,0.22, 0.70,0.28,0.50,0.20,0.80,0.30,1.55,0.26,0.48,0.15,
 1.55,0.22,0.60,0.18,1.50,0.30,0.45,0.10,0.62,0.25, 0.00,0.48,0.20,0.64,0.30,0.52,0.70,0.18,0.00,0.40,
 0.60,0.20,0.55,0.30,1.17,0.25,0.50,0.15,0.70,0.30, 0.20,0.55,1.12,0.28,0.62,0.15,0.80,0.40,0.15,0.55,
 0.70,0.20,0.45,0.30,1.00,0.25,0.60,0.35,0.80,0.20, 1.25,0.30,0.20,0.55,0.35,0.00,0.50,1.35,0.30,0.65,
 0.60]
i_a0_sed = grid(600, i_a0_sed_vals)
i_a0_sfq_head = [(700,0),(704,0.01),(708,0.04),(710,0.07),(712,0.12),(714,0.2),(716,0.3),(717,0.38),(718,0.45),(719,0.52),
 (720,0.6),(721,0.66),(722,0.72),(723,0.78),(724,0.84)]
i_a0_sfq_mid = [
 0.80,0.92,0.86,0.98,0.88,0.95,0.82,0.93,0.78,0.90, 0.76,0.88,0.70,0.84,0.66,0.80,0.62,0.78,0.65,0.74,
 0.60,0.76,0.62,0.72,0.58,0.74,0.60,0.70,0.56,0.72, 0.58,0.68,0.55,0.70,0.56,0.66,0.53,0.68,0.54,0.64,
 0.52,0.66,0.53,0.62,0.50,0.64,0.51,0.60,0.48,0.62, 0.50,0.58,0.47,0.60,0.48,0.56,0.46,0.58,0.47,0.54,
 0.44,0.56,0.45,0.52,0.43,0.54,0.44,0.50,0.42,0.52, 0.43,0.49,0.41,0.51,0.42,0.48,0.40,0.50,0.41,0.46,
 0.39,0.48,0.40,0.45,0.38,0.47,0.39,0.44,0.37,0.46, 0.38,0.43,0.36,0.45,0.37,0.42,0.35,0.44,0.36,0.41,
 0.34,0.43,0.35,0.40,0.33,0.42,0.34,0.12,0.36,0.32, 0.40,0.33,0.38,0.31,0.39,0.32,0.36,0.30,0.38,0.31,
 0.35,0.12,0.34,0.29,0.36,0.28,0.34,0.27,0.35,0.26, 0.33,0.25,0.34,0.26,0.32,0.24,0.33,0.25,0.31,0.24,
 0.30,0.22,0.28,0.20,0.24,0.16]
i_a0_sfq_tailpts = [(871,0.12),(872,0.09),(873,0.06),(874,0.04),(875,0.02),(877,0.005),(879,0)]
i_a0_sfq = i_a0_sfq_head + grid(725, i_a0_sfq_mid) + i_a0_sfq_tailpts
i_a0_imean = [(650,0.005),(660,0.01),(670,0.02),(674,0.03),(680,0.05),(689,0.11),(697,0.18),(704,0.27),(709,0.38),(713,0.5),
 (718,0.65),(722.5,0.79),(727,0.88),(731.5,0.93),(735,0.96),(739,0.97),(742,0.94),(745,0.86),(748,0.72),(750,0.62),(753,0.45),
 (756,0.3),(758.7,0.18),(762,0.11),(766,0.07),(770,0.055),(775,0.053),(780,0.07),(785,0.1),(790,0.14),(795,0.18),(800,0.22),
 (805,0.27),(810,0.32),(815,0.38),(820,0.45),(825,0.53),(830,0.58),(834,0.6),(838,0.57),(843,0.47),(846,0.38),(849.4,0.27),
 (852,0.23),(855.4,0.19),(860,0.15),(865,0.12),(870.6,0.09),(878,0.06),(885.7,0.04),(895,0.02),(910,0.008),(930,0.003),(950,0.001)]
i_a0_ampl = i_a0_imean  # identical fit (same coefficients), hidden under red
i_a0_mean = [(650,0.005),(660,0.01),(670,0.02),(674,0.03),(680,0.05),(689,0.12),(697,0.19),(704,0.29),(709,0.4),(713,0.53),
 (718,0.69),(722.5,0.83),(727,0.94),(731.5,0.99),(735,1.02),(739,1.04),(742,1.0),(745,0.9),(748,0.75),(750,0.64),(753,0.46),
 (756,0.3),(759,0.17),(762,0.1),(766,0.055),(770,0.035),(776,0.025),(783,0.023),(790,0.03),(797,0.045),(803,0.06),(810,0.09),
 (818,0.14),(825.2,0.18),(832,0.24),(840.4,0.32),(848,0.36),(853,0.375),(858.5,0.38),(863,0.37),(867,0.35),(870.6,0.31),
 (875,0.24),(879.7,0.16),(885,0.1),(891.8,0.053),(898,0.03),(906.9,0.02),(920,0.008),(935,0.003),(950,0.001)]
i_a0_lam = [781.6, 780.1, 781.6, 780.1]
i_a0_coef = [[0.43, 0.45, 0.12, 0.00], [0.47, 0.08, 0.45, 0.00], [0.43, 0.45, 0.12, 0.00]]

# ---------- I-filter | SED = Test_SN0_0 ----------
i_t_sed = [(600,0.085),(601,0.074),(602,0.067),(603,0.06),(604,0.056),(605,0.055),(606,0.054),(607.3,0.052),(608.2,0.047),
 (608.8,0.045),(610,0.044),(611.1,0.043),(612,0.044),(612.9,0.047),(614,0.051),(615.2,0.057),(616,0.062),(617,0.067),(618.5,0.075),
 (620,0.082),(625,0.09),(630,0.088),(635,0.085),(640,0.08),(645,0.075),(648,0.072),(650,0.069),(651.5,0.066),(653,0.065),
 (654.5,0.0645),(656,0.064),(657.9,0.063),(658.8,0.066),(659.9,0.061),(660.8,0.067),(661.7,0.066),(662.5,0.06),(663.3,0.062),
 (664.2,0.064),(665.1,0.064),(666.2,0.061),(667.4,0.064),(668.5,0.063),(669.7,0.061),(670.8,0.059),(671.9,0.058),(673,0.057),
 (674.2,0.056),(675.3,0.0565),(676.5,0.057),(677.5,0.058),(678.2,0.06),(679.2,0.055),(680.5,0.056),(682.1,0.053),(683.3,0.057),
 (684.5,0.056),(685.5,0.056),(687,0.054),(688,0.052),(690,0.05),(693,0.052),(696,0.05),(699,0.051),(701,0.049),(703,0.047),
 (704.5,0.043),(706,0.04),(707.5,0.038),(709,0.042),(710.3,0.045),(711.6,0.046),(713.5,0.047),(715,0.047),(717.3,0.05),
 (718.4,0.049),(719.6,0.044),(720.8,0.043),(721.9,0.043),(723,0.044),(724.1,0.045),(725.2,0.044),(726.4,0.043),(727.5,0.042),
 (728.7,0.042),(729.8,0.041),(730.9,0.042),(732,0.041),(733.2,0.04),(734.3,0.04),(735.5,0.041),(736.6,0.04),(737.7,0.039),
 (738.8,0.04),(740,0.038),(741.1,0.036),(742,0.038),(743.4,0.041),(744.5,0.038),(745.6,0.035),(747,0.033),(748.6,0.031),
 (749.8,0.034),(750.9,0.037),(752,0.035),(753.2,0.034),(754.3,0.036),(755.4,0.039),(756.5,0.0385),(757.7,0.038),(759,0.0385),
 (760.4,0.038),(762,0.037),(763.8,0.036),(765,0.0355),(766.1,0.035),(767.5,0.036),(769,0.038),(770.5,0.037),(771.8,0.036),
 (773.5,0.035),(775.2,0.034),(776.3,0.034),(777.4,0.034),(778.5,0.035),(779.7,0.036),(780.5,0.033),(781.2,0.028),(782,0.023),
 (783,0.021),(784.2,0.02),(785.3,0.021),(786.5,0.022),(788,0.0215),(789.9,0.021),(791.5,0.019),(793.3,0.017),(794.5,0.015),
 (795.6,0.014),(796.7,0.015),(797.8,0.016),(799,0.017),(800.1,0.017),(801.3,0.018),(802.4,0.018),(803.5,0.014),(804.6,0.018),
 (805.8,0.022),(807,0.026),(808,0.029),(809.2,0.031),(810.3,0.029),(811.4,0.027),(812.5,0.026),(813.7,0.024),(815,0.022),
 (816.6,0.018),(817.8,0.024),(818.9,0.029),(820,0.027),(821.2,0.025),(822.5,0.027),(823.9,0.029),(825,0.0285),(826.1,0.028),
 (827.5,0.027),(828.5,0.026),(829.5,0.025),(831,0.025),(832.9,0.025),(834,0.028),(835.2,0.031),(836.5,0.0305),(837.6,0.0305),
 (838.6,0.03),(839.7,0.029),(840.8,0.028),(842,0.029),(843.1,0.029),(844.2,0.028),(845.4,0.027),(846.5,0.028),(847.6,0.028),
 (848.8,0.029),(849.9,0.029),(851,0.027),(852.2,0.026),(853.3,0.028),(854.4,0.026),(855.5,0.024),(856.4,0.025),(857.3,0.026),
 (858.1,0.025),(858.9,0.026)]
i_t_sfq = [(700,0.0),(703,0.0003),(706,0.001),(708,0.002),(710,0.004),(712,0.008),(714,0.013),(716,0.018),(718,0.022),(720,0.026),
 (722,0.03),(724,0.032),(726,0.0325),(728,0.032),(730,0.0325),(732,0.031),(734,0.03),(736,0.0315),(738,0.0305),(740,0.031),
 (742,0.028),(744,0.029),(746,0.0295),(748,0.026),(750,0.025),(751.4,0.027),(753.6,0.025),(755,0.028),(757,0.0295),(758.5,0.0285),
 (760.4,0.028),(762,0.0275),(763.8,0.027),(765.5,0.026),(767.2,0.024),(769.5,0.027),(771,0.026),(772.9,0.025),(774.5,0.024),
 (776.3,0.023),(778,0.023),(779.7,0.025),(781,0.02),(782,0.015),(784.2,0.013),(786.5,0.015),(788,0.014),(789.9,0.013),
 (791.5,0.011),(793.3,0.01),(795.6,0.009),(797.8,0.01),(800.1,0.011),(801.5,0.01),(803.1,0.009),(805.8,0.014),(807.5,0.017),
 (808.7,0.019),(810,0.017),(811.4,0.016),(813,0.014),(814.4,0.013),(816.6,0.01),(818,0.013),(819.4,0.016),(821.7,0.014),
 (823,0.015),(824.4,0.016),(825.8,0.016),(827.3,0.015),(829,0.014),(830.7,0.013),(832.5,0.015),(834.1,0.016),(835.8,0.016),
 (837.6,0.015),(839,0.015),(840.8,0.014),(842.5,0.013),(844.4,0.014),(846,0.0135),(847.6,0.013),(849,0.013),(851,0.012),
 (853.3,0.013),(855,0.012),(856.6,0.011),(858.9,0.011)]
i_t_ampl = [(650,0.0002),(660,0.0004),(672,0.0008),(683,0.0016),(690,0.0026),(695,0.0038),(700,0.0055),(706,0.0083),(712,0.0118),
 (717.3,0.0158),(722,0.0205),(726.4,0.0257),(731,0.031),(735,0.0355),(737.7,0.0373),(740,0.037),(743,0.0358),(746.9,0.0335),
 (750,0.0295),(753.7,0.0243),(757,0.019),(760.5,0.0144),(764,0.0105),(767.2,0.0074),(771,0.0042),(775,0.0021),(780,0.0022),
 (786.3,0.0032),(792,0.0043),(797.7,0.0056),(803,0.0074),(808.8,0.0095),(814,0.0118),(819.4,0.0144),(825,0.0172),(831.7,0.0204),
 (834.1,0.0208),(838,0.0198),(842.1,0.0173),(845,0.0152),(849,0.0123),(854,0.0093),(858.9,0.0063)]
i_t_mean = [(650,0.0002),(660,0.0004),(672,0.0007),(683,0.0014),(690,0.0022),(695,0.0032),(700,0.0047),(706,0.007),(712.8,0.011),
 (719.6,0.0165),(726.4,0.0243),(733.2,0.0303),(737,0.0326),(740,0.033),(743,0.032),(746.9,0.0296),(750,0.0262),(753.7,0.0212),
 (757,0.0163),(760.5,0.0114),(764,0.0076),(767.2,0.0051),(771,0.003),(775,0.0016),(780,0.001),(786,0.0009),(792,0.0011),
 (797.7,0.0016),(803,0.0025),(808.8,0.0037),(814,0.0055),(819.4,0.0076),(825,0.0103),(831.7,0.0138),(836,0.0165),(840.8,0.0195),
 (845,0.0222),(849.8,0.0248),(854,0.0268),(858.9,0.0285)]
i_t_imean = [(650,0.0002),(660,0.0004),(672,0.0007),(683,0.0014),(690,0.0022),(695,0.0032),(700,0.0047),(706,0.007),(712.8,0.011),
 (719.6,0.0165),(726.4,0.0243),(733.2,0.0306),(737,0.033),(740,0.0335),(743,0.0325),(746.9,0.03),(750,0.0265),(753.7,0.0215),
 (757,0.0165),(760.5,0.0116),(764,0.0078),(767.2,0.0053),(771,0.0032),(775,0.0018),(780,0.0012),(786,0.0011),(792,0.0013),
 (797.7,0.0018),(803,0.0027),(808.8,0.0038),(814,0.0056),(819.4,0.0077),(825,0.0103),(831.7,0.0135),(836,0.016),(840.8,0.0187),
 (845,0.021),(849.8,0.0236),(854,0.0252),(858.9,0.0263)]
i_t_lam = [774.7, 771.0, 774.7, 774.7]
i_t_coef = [[0.50, 0.46, 0.04, 0.00], [0.50, 0.00, 0.50, 0.00], [0.49, 0.06, 0.44, 0.00]]

titles = ["G-filter | SED = A0", "G-filter | SED = Test_SN0_0",
          "R-filter | SED = A0", "R-filter | SED = Test_SN0_0",
          "I-filter | SED = A0", "I-filter | SED = Test_SN0_0"]
x_ticks = [[350, 400, 450, 500, 550, 600, 650], [350, 400, 450, 500, 550, 600, 650],
           [500, 550, 600, 650, 700, 750, 800], [500, 550, 600, 650, 700, 750, 800],
           [600, 650, 700, 750, 800, 850, 900, 950, 1000], [600, 650, 700, 750, 800, 850, 900]]
y_ticks = [[0, 2, 4, 6, 8], [0, 0.05, 0.10, 0.15, 0.20, 0.25, 0.30, 0.35],
           [0, 0.5, 1.0, 1.5, 2.0, 2.5, 3.0, 3.5], [0, 0.02, 0.04, 0.06, 0.08, 0.10, 0.12, 0.14, 0.16],
           [0, 0.25, 0.5, 0.75, 1.0, 1.25, 1.5, 1.75, 2.0], [0, 0.01, 0.02, 0.03, 0.04, 0.05, 0.06]]
x_ranges = [[350, 650], [350, 650], [480, 800], [480, 800], [600, 1000], [600, 907]]
y_ranges = [[0, 9.69], [0, 0.3566], [0, 3.96], [0, 0.1641], [0, 2.119], [0, 0.0658]]

panels = [
    (g_a0_sed, g_a0_sfq, g_a0_ampl, g_a0_mean, g_a0_imean, g_a0_lam, g_a0_coef),
    (g_t_sed, g_t_sfq, g_t_ampl, g_t_mean, g_t_imean, g_t_lam, g_t_coef),
    (r_a0_sed, r_a0_sfq, r_a0_ampl, r_a0_mean, r_a0_imean, r_a0_lam, r_a0_coef),
    (r_t_sed, r_t_sfq, r_t_ampl, r_t_mean, r_t_imean, r_t_lam, r_t_coef),
    (i_a0_sed, i_a0_sfq, i_a0_ampl, i_a0_mean, i_a0_imean, i_a0_lam, i_a0_coef),
    (i_t_sed, i_t_sfq, i_t_ampl, i_t_mean, i_t_imean, i_t_lam, i_t_coef),
]

# ======================= LAYOUT (pixels) =======================
frames = [(41, 551, 45, 360), (646, 1137, 56, 361), (52, 550, 455, 764),
          (646, 1137, 459, 764), (57, 547, 867, 1171), (647, 1148, 858, 1169)]
y_fmt = ["d", ".2f", ".1f", ".2f", ".2f", ".2f"]
title_pos = [(296, 11), (891, 23), (301, 421), (891, 426), (302, 833), (897, 824)]
xlabel_pos = [(296, 388), (891, 389), (301, 792), (891, 792), (302, 1199), (897, 1198)]
ylabel_pos = [(15, 203), (603, 208), (15, 610), (603, 612), (15, 1019), (603, 1014)]
legend_box = [(189, 547, 50), (789, 1133, 61), (197, 547, 459), (789, 1133, 463), (200, 544, 872), (793, 1144, 863)]
colors = ["black", "gray", "green", "blue", "red"]
LW = 3.2
# the dense, noisy A0 spectra render as a thick band in the original; widen those strokes a little
sed_w = [4.8, LW, 4.8, LW, 4.4, LW]
sfq_w = [4.4, LW, 4.4, LW, 4.2, LW]


def X(px):
    return px / W


def Y(py):
    return 1 - py / H


NB = "\u00a0"
TH = "\u2009"
LAM = f"&lt;{TH}<i>λ</i>{TH}&gt;"


def coef_txt(c):
    return " + ".join(f"{v:.2f}" for v in c)


fig = go.Figure()
layout = dict(width=W, height=H, margin=dict(l=0, r=0, t=0, b=0, pad=0, autoexpand=False), showlegend=False,
              paper_bgcolor="white", plot_bgcolor="white",
              font=dict(family=FONT, color="black"))
shapes, annotations = [], []

for i, (sed, sfq, ampl, mean, imean, lam, coef) in enumerate(panels):
    n = i + 1
    xid = "x" if n == 1 else f"x{n}"
    yid = "y" if n == 1 else f"y{n}"
    widths = [sed_w[i], sfq_w[i], LW, LW, LW]
    for series, col, lw in zip([sed, sfq, ampl, mean, imean], colors, widths):
        xs = [p[0] for p in series]
        ys = [p[1] for p in series]
        fig.add_trace(go.Scatter(x=xs, y=ys, mode="lines", xaxis=xid, yaxis=yid,
                                 line=dict(color=col, width=lw, simplify=False), hoverinfo="skip"))
    x0, x1, y0, y1 = frames[i]
    axcommon = dict(showgrid=False, zeroline=False, showline=True, linecolor="black", linewidth=1,
                    mirror=True, ticks="outside", ticklen=4, tickwidth=1, tickcolor="black", automargin=False,
                    tickfont=dict(family=FONT, size=11.2, color="black"))
    layout["xaxis" if n == 1 else f"xaxis{n}"] = dict(domain=[X(x0), X(x1)], anchor=yid, range=x_ranges[i],
                                                    tickvals=x_ticks[i], **axcommon)
    layout["yaxis" if n == 1 else f"yaxis{n}"] = dict(domain=[Y(y1), Y(y0)], anchor=xid, range=y_ranges[i],
                                                    tickvals=y_ticks[i], tickformat=y_fmt[i], **axcommon)
    tx, ty = title_pos[i]
    annotations.append(dict(text=titles[i], x=X(tx), y=Y(ty), xref="paper", yref="paper", showarrow=False,
                            xanchor="center", yanchor="middle", font=dict(family=FONT, size=13.4, color="black")))
    lx, ly = xlabel_pos[i]
    annotations.append(dict(text="<i>λ</i> (nm)", x=X(lx), y=Y(ly), xref="paper", yref="paper", showarrow=False,
                            xanchor="center", yanchor="middle", font=dict(family=FONT, size=11.2, color="black")))
    vx, vy = ylabel_pos[i]
    annotations.append(dict(text="Intensity (a.u.)", x=X(vx), y=Y(vy), xref="paper", yref="paper", showarrow=False,
                            textangle=-90, xanchor="center", yanchor="middle",
                            font=dict(family=FONT, size=11.2, color="black")))
    # legend box drawn matplotlib-style (with drop shadow)
    bx0, bx1, by0 = legend_box[i]
    by1 = by0 + 83
    shapes.append(dict(type="rect", xref="paper", yref="paper", x0=X(bx0 + 3), x1=X(bx1 + 3), y0=Y(by1 + 3),
                       y1=Y(by0 + 3), fillcolor="rgba(0,0,0,0.35)", line=dict(width=0), layer="above"))
    shapes.append(dict(type="rect", xref="paper", yref="paper", x0=X(bx0), x1=X(bx1), y0=Y(by1), y1=Y(by0),
                       fillcolor="white", line=dict(color="#cccccc", width=1), layer="above"))
    texts = ["SED",
             f"SED * Filter * QE:{NB} {LAM}{NB} = {lam[0]:.1f}",
             f"Fit SED Ampl ({coef_txt(coef[0])}):{NB} {LAM}{NB} = {lam[1]:.1f}",
             f"Fit SED Ampl+|Mean| ({coef_txt(coef[1])}):{NB} {LAM}{NB} = {lam[2]:.1f}",
             f"Fit SED Ampl+I*|Mean| ({coef_txt(coef[2])}):{NB} {LAM}{NB} = {lam[3]:.1f}"]
    for k in range(5):
        ry = by0 + 7.7 + 16.2 * k
        shapes.append(dict(type="line", xref="paper", yref="paper", x0=X(bx0 + 3), x1=X(bx0 + 25),
                           y0=Y(ry), y1=Y(ry), line=dict(color=colors[k], width=LW), layer="above"))
        annotations.append(dict(text=texts[k], x=X(bx0 + 30), y=Y(ry), xref="paper", yref="paper",
                                showarrow=False, xanchor="left", yanchor="middle",
                                font=dict(family=FONT, size=9.0, color="black")))

layout["shapes"] = shapes
layout["annotations"] = annotations
fig.update_layout(**layout)
fig.write_html("out.html")
